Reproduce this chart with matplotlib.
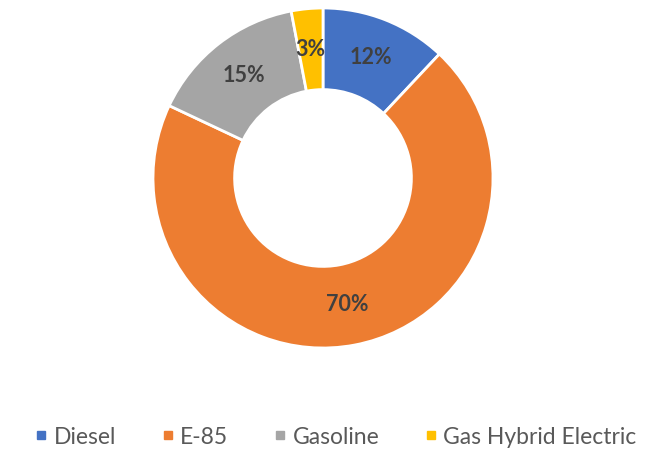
import matplotlib
matplotlib.use("Agg")
import matplotlib.pyplot as plt
from matplotlib.lines import Line2D
import numpy as np

categories = ["Diesel", "E-85", "Gasoline", "Gas Hybrid Electric"]
values = [12, 70, 15, 3]
labels = ["12%", "70%", "15%", "3%"]
colors = ["#4472C4", "#ED7D31", "#A5A5A5", "#FFC000"]

plt.rcParams['font.family'] = ['Lato', 'DejaVu Sans']

W, H = 649, 453
fig = plt.figure(figsize=(W / 100, H / 100), dpi=100)
cx, cy, r = 323, 178, 170
ax = fig.add_axes([(cx - r) / W, (H - cy - r) / H, 2 * r / W, 2 * r / H])
inner = 0.52
wedges, _ = ax.pie(values, colors=colors, startangle=90, counterclock=False,
                   radius=1, wedgeprops=dict(width=1 - inner, edgecolor="white", linewidth=2))
cum = np.cumsum([0] + values[:-1])
total = sum(values)
rm = (1 + inner) / 2
for c, v, lab in zip(cum, values, labels):
    ang = np.deg2rad(90 - (c + v / 2) / total * 360)
    ax.text(rm * np.cos(ang), rm * np.sin(ang), lab, ha="center", va="center",
            fontsize=15.5, fontweight="bold", color="#404040")
ax.set_xlim(-1, 1)
ax.set_ylim(-1, 1)
ax.set_aspect("equal")
ax.axis("off")

handles = [Line2D([], [], marker="s", linestyle="none", markersize=6,
                  markerfacecolor=c, markeredgecolor=c) for c in colors]
fig.legend(handles, categories, loc="center", bbox_to_anchor=(336 / W, 1 - 437 / H),
           ncol=4, frameon=False, fontsize=16.5, labelcolor="#595959",
           handlelength=0.5, handletextpad=0.3, columnspacing=2.0)
fig.savefig("out.png", dpi=100)
